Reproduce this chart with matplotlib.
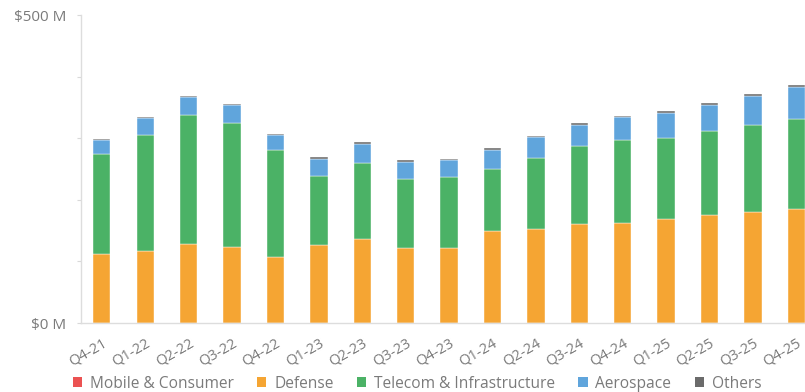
import matplotlib.pyplot as plt
from matplotlib.patches import Patch
import numpy as np

# Revenue by segment per quarter, $M
quarters = ['Q4-21', 'Q1-22', 'Q2-22', 'Q3-22', 'Q4-22', 'Q1-23', 'Q2-23', 'Q3-23', 'Q4-23',
            'Q1-24', 'Q2-24', 'Q3-24', 'Q4-24', 'Q1-25', 'Q2-25', 'Q3-25', 'Q4-25']
mobile = [0, 0, 0, 0, 0, 0, 0, 0, 0, 0, 0, 0, 0, 0, 0, 0, 0]
defense = [112.5, 116.7, 127.6, 123.3, 106.5, 126.0, 136.9, 121.6, 122.3,
           149.6, 152.5, 160.2, 162.9, 168.8, 174.8, 180.2, 184.6]
telecom = [162.6, 189.3, 209.3, 202.2, 175.1, 112.7, 122.9, 112.9, 114.3,
           100.0, 116.1, 126.8, 135.0, 131.2, 136.1, 141.4, 146.8]
aerospace = [22.8, 26.5, 29.8, 27.7, 24.1, 28.3, 30.9, 27.0, 28.1,
             31.2, 33.0, 34.1, 36.2, 40.7, 43.2, 46.7, 51.0]
others = [1.6, 1.6, 1.1, 2.1, 1.9, 3.2, 2.8, 2.7, 2.3,
          2.5, 2.8, 3.0, 2.2, 2.7, 2.8, 3.2, 3.3]

series = [('Mobile & Consumer', mobile, '#EB5252'),
          ('Defense', defense, '#F5A533'),
          ('Telecom & Infrastructure', telecom, '#4BB266'),
          ('Aerospace', aerospace, '#60A5DC'),
          ('Others', others, '#6B6B6B')]

text_color = '#7A7A7A'
plt.rcParams['font.family'] = ['Open Sans', 'DejaVu Sans']

fig = plt.figure(figsize=(8.05, 3.92), dpi=100)
ax = fig.add_axes([0.1006, 0.176, 0.8994, 0.7857])

x = np.arange(len(quarters))
bottom = np.zeros(len(quarters))
for name, vals, color in series:
    vals = np.array(vals, dtype=float)
    ax.bar(x, vals, width=0.4, bottom=bottom, color=color,
           edgecolor='white', linewidth=0.3)
    bottom += vals

ax.set_ylim(0, 500)
ax.set_xlim(-0.48, 16.2)

ax.set_yticks([0, 100, 200, 300, 400, 500])
ax.set_yticklabels(['$0 M', '', '', '', '', '$500 M'])
ax.tick_params(axis='y', length=3, color='#D9D9D9', labelsize=11,
               labelcolor=text_color, pad=7.5)

ax.set_xticks(x)
ax.set_xticklabels(quarters, rotation=30, ha='right', rotation_mode='anchor')
ax.tick_params(axis='x', length=0, labelsize=10.5, labelcolor=text_color, pad=9)

for side in ['top', 'right']:
    ax.spines[side].set_visible(False)
for side in ['left', 'bottom']:
    ax.spines[side].set_color('#DDDDDD')
    ax.spines[side].set_linewidth(1)

handles = [Patch(facecolor=c, edgecolor='none', label=n) for n, _, c in series]
leg = fig.legend(handles=handles, loc='lower center', bbox_to_anchor=(0.518, -0.035),
                 ncol=5, frameon=False, fontsize=11.2, handlelength=0.6,
                 handleheight=0.6, handletextpad=0.5, columnspacing=1.5)
for t in leg.get_texts():
    t.set_color(text_color)

fig.savefig('out.png', dpi=100)
